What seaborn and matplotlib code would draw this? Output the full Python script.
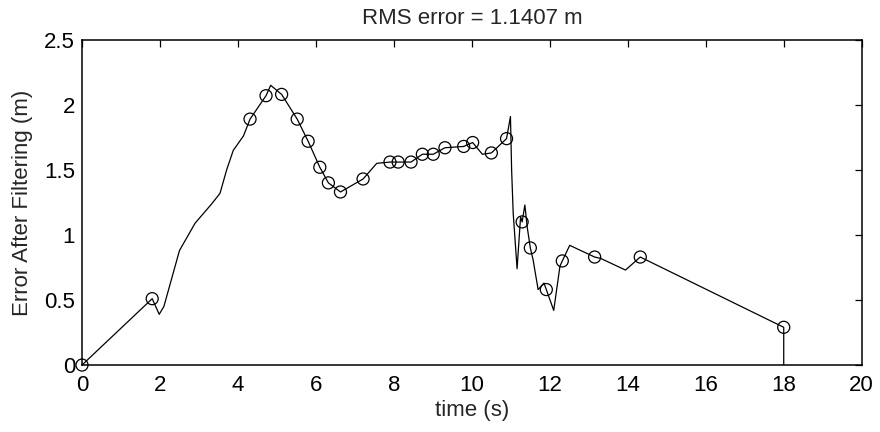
import matplotlib
matplotlib.use("Agg")
import matplotlib.pyplot as plt
import seaborn as sns
import pandas as pd

# Filtered position error over time
time_s = [0.0, 1.8, 1.98, 2.1, 2.5, 2.9, 3.33, 3.54, 3.71, 3.88, 4.14, 4.31, 4.72, 4.84,
          5.12, 5.52, 5.80, 6.10, 6.32, 6.63, 7.21, 7.56, 7.90, 8.11, 8.44, 8.73,
          9.01, 9.31, 9.79, 10.02, 10.27, 10.50, 10.89, 10.99, 11.02, 11.06, 11.16,
          11.25, 11.29, 11.36, 11.42, 11.50, 11.57, 11.70, 11.85, 11.91, 12.10,
          12.26, 12.32, 12.51, 13.15, 13.3, 13.94, 14.32, 18.0, 18.0]
error_m = [0.0, 0.51, 0.39, 0.45, 0.88, 1.09, 1.24, 1.32, 1.50, 1.65, 1.76, 1.89, 2.07, 2.15,
           2.08, 1.89, 1.72, 1.52, 1.40, 1.33, 1.43, 1.55, 1.56, 1.56, 1.56, 1.62,
           1.62, 1.67, 1.68, 1.71, 1.62, 1.63, 1.74, 1.91, 1.50, 1.17, 0.74,
           1.14, 1.10, 1.23, 1.06, 0.90, 0.81, 0.58, 0.63, 0.58, 0.42,
           0.76, 0.80, 0.92, 0.83, 0.82, 0.73, 0.83, 0.29, 0.0]

# Measurement update instants
meas_t = [0.0, 1.8, 4.31, 4.72, 5.12, 5.52, 5.80, 6.10, 6.32, 6.63, 7.21, 7.90, 8.11,
          8.44, 8.73, 9.01, 9.31, 9.79, 10.02, 10.50, 10.89, 11.29, 11.50, 11.91,
          12.32, 13.15, 14.32, 18.0]
meas_e = [0.0, 0.51, 1.89, 2.07, 2.08, 1.89, 1.72, 1.52, 1.40, 1.33, 1.43, 1.56, 1.56,
          1.56, 1.62, 1.62, 1.67, 1.68, 1.71, 1.63, 1.74, 1.10, 0.90, 0.58,
          0.80, 0.83, 0.83, 0.29]

rms_error = 1.1407
x_ticks = [0, 2, 4, 6, 8, 10, 12, 14, 16, 18, 20]
y_ticks = [0, 0.5, 1, 1.5, 2, 2.5]

sns.set_style("white")
plt.rcParams["font.family"] = ["Liberation Sans", "DejaVu Sans"]

fig = plt.figure(figsize=(8.8, 4.32), dpi=100)
ax = fig.add_axes([0.0932, 0.155, 0.886, 0.753])

trace = pd.DataFrame({"t": time_s, "e": error_m})
marks = pd.DataFrame({"t": meas_t, "e": meas_e})

sns.lineplot(data=trace, x="t", y="e", sort=False, estimator=None,
             color="black", linewidth=0.9, ax=ax)
sns.scatterplot(data=marks, x="t", y="e", marker="o", s=75,
                facecolor="none", edgecolor="black", linewidth=0.9,
                clip_on=False, zorder=3, ax=ax)

ax.set_xlim(0, 20)
ax.set_ylim(0, 2.5)
ax.set_xticks(x_ticks)
ax.set_yticks(y_ticks)
ax.set_xticklabels([str(v) for v in x_ticks])
ax.set_yticklabels(["0", "0.5", "1", "1.5", "2", "2.5"])

for side in ["top", "right", "bottom", "left"]:
    ax.spines[side].set_visible(True)
    ax.spines[side].set_color("black")
    ax.spines[side].set_linewidth(1.1)

ax.tick_params(axis="both", direction="in", length=5, width=0.9,
               top=True, right=True, labelsize=16, colors="black")
ax.tick_params(axis="x", pad=7)
ax.tick_params(axis="y", pad=5)

ax.set_xlabel("time (s)", fontsize=16, labelpad=3)
ax.set_ylabel("Error After Filtering (m)", fontsize=16, labelpad=8)
ax.set_title(f"RMS error = {rms_error:.4f} m", fontsize=16, pad=11)

fig.savefig("out.png", dpi=100)
